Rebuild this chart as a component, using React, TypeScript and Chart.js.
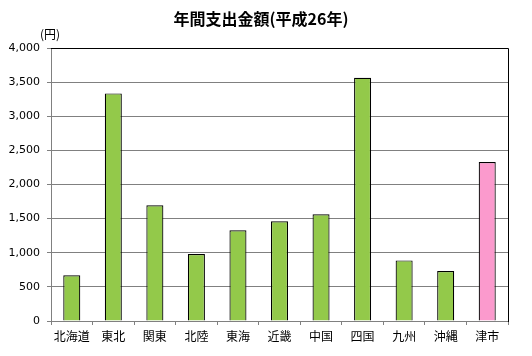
import React, { useEffect, useRef } from "react";
import { Chart, registerables } from "chart.js";

Chart.register(...registerables);

const categories = ["北海道", "東北", "関東", "北陸", "東海", "近畿", "中国", "四国", "九州", "沖縄", "津市"];
const values = [670, 3335, 1695, 980, 1330, 1462, 1565, 3565, 888, 731, 2330];
const barColors = ["#93c94a", "#93c94a", "#93c94a", "#93c94a", "#93c94a", "#93c94a", "#93c94a", "#93c94a", "#93c94a", "#93c94a", "#fb9acd"];
const titleText = "年間支出金額(平成26年)";
const unitText = "(円)";

const frame = {
  id: "frame",
  afterDraw(chart: any) {
    const { ctx, chartArea } = chart;
    ctx.save();
    ctx.strokeStyle = "#000";
    ctx.lineWidth = 1;
    ctx.beginPath();
    ctx.moveTo(chartArea.left, Math.round(chartArea.top) + 0.5);
    ctx.lineTo(Math.round(chartArea.right) + 0.5, Math.round(chartArea.top) + 0.5);
    ctx.lineTo(Math.round(chartArea.right) + 0.5, chartArea.bottom + 1);
    ctx.stroke();
    ctx.fillStyle = "#000";
    ctx.textAlign = "center";
    ctx.textBaseline = "middle";
    ctx.font = "bold 16px 'Noto Sans CJK JP'";
    ctx.fillText(titleText, 261, 19);
    ctx.font = "12px 'Noto Sans CJK JP'";
    ctx.fillText(unitText, 50, 34);
    ctx.restore();
  },
};

export default function App() {
  const ref = useRef<HTMLCanvasElement>(null);
  useEffect(() => {
    const chart = new Chart(ref.current!, {
      type: "bar",
      data: {
        labels: categories,
        datasets: [
          {
            data: values,
            backgroundColor: barColors,
            borderColor: "#000",
            borderWidth: 1.2,
            borderSkipped: "bottom",
            categoryPercentage: 1,
            barPercentage: 0.41,
          },
        ],
      },
      options: {
        animation: false,
        responsive: false,
        maintainAspectRatio: false,
        layout: { padding: { top: 48, right: 24, left: 0, bottom: 0 } },
        plugins: { legend: { display: false }, title: { display: false }, tooltip: { enabled: false } },
        scales: {
          x: {
            grid: { offset: true, drawOnChartArea: false, drawTicks: true, tickLength: 4, color: "#808080" },
            border: { color: "#808080" },
            ticks: { color: "#000", font: { family: "'Noto Sans CJK JP'", size: 12 }, padding: 4, maxRotation: 0 },
            afterFit: (s: any) => { s.height = 35; },
          },
          y: {
            min: 0,
            max: 4000,
            ticks: {
              stepSize: 500,
              color: "#000",
              padding: 7,
              font: { family: "'DejaVu Sans'", size: 11 },
              callback: (v: any) => Number(v).toLocaleString("en-US"),
            },
            grid: { color: "#808080", tickLength: 4 },
            border: { color: "#808080" },
            afterFit: (s: any) => { s.width = 51; },
          },
        },
      },
      plugins: [frame],
    });
    return () => chart.destroy();
  }, []);
  return (
    <div style={{ position: "fixed", left: 0, top: 0, width: 532, height: 356, background: "#fff" }}>
      <canvas ref={ref} width={532} height={356} style={{ width: 532, height: 356 }} />
    </div>
  );
}
